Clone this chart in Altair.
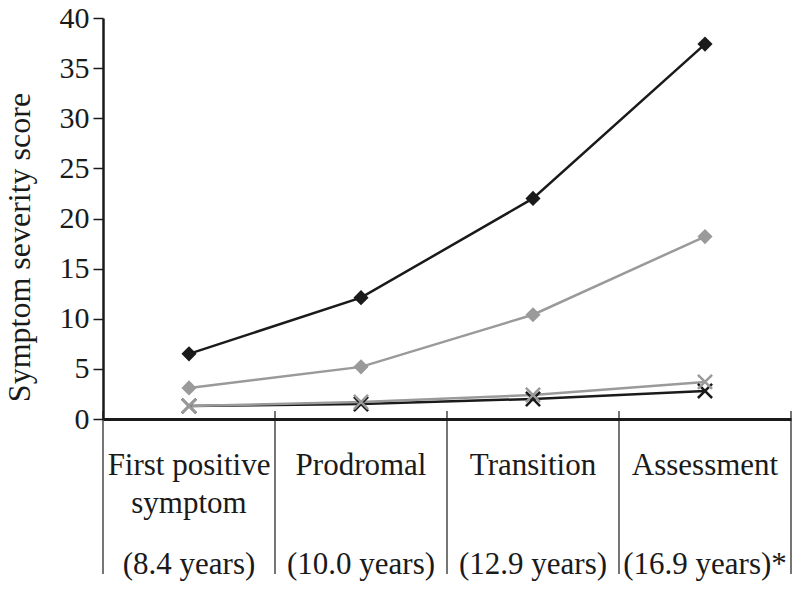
import altair as alt
import pandas as pd

categories = ["First positive symptom", "Prodromal", "Transition", "Assessment"]
label_line1 = ["First positive", "Prodromal", "Transition", "Assessment"]
label_line2 = ["symptom", "", "", ""]
label_line3 = ["(8.4 years)", "(10.0 years)", "(12.9 years)", "(16.9 years)*"]

series_names = ["Black diamond", "Grey diamond", "Grey cross", "Black cross"]
black_diamond = [6.5, 12.1, 22.0, 37.4]
grey_diamond = [3.1, 5.2, 10.4, 18.2]
grey_cross = [1.3, 1.7, 2.4, 3.7]
black_cross = [1.3, 1.5, 2.0, 2.8]

BLACK = "#1a1a1a"
GREY = "#9a9a9a"
FONT = "Liberation Serif"

pos = [i + 0.5 for i in range(len(categories))]
rows = []
for name, vals in zip(series_names, [black_diamond, grey_diamond, grey_cross, black_cross]):
    for c, p, v in zip(categories, pos, vals):
        rows.append({"series": name, "cat": c, "pos": p, "value": v})
df = pd.DataFrame(rows)

xscale = alt.Scale(domain=[0, 4], nice=False, zero=False)
yscale = alt.Scale(domain=[0, 40], nice=False)

xenc = alt.X("pos:Q", scale=xscale,
             axis=alt.Axis(labels=False, ticks=False, grid=False, title=None,
                           domainColor=BLACK, domainWidth=3))
yenc = alt.Y("value:Q", scale=yscale,
             axis=alt.Axis(values=list(range(0, 41, 5)), grid=False,
                           title="Symptom severity score",
                           titleFont=FONT, titleFontSize=32, titleFontWeight="normal",
                           titleColor=BLACK, titleX=-84, titleY=229,
                           titleAngle=270, titleBaseline="middle", titleAlign="center",
                           labelFont=FONT, labelFontSize=30, labelColor=BLACK,
                           labelPadding=4, tickSize=10, tickWidth=1.5, tickColor=BLACK,
                           domainColor=BLACK, domainWidth=2.5))

def line_layer(name, color):
    d = df[df.series == name]
    return alt.Chart(d).mark_line(color=color, strokeWidth=2.5).encode(x=xenc, y=yenc)

def point_layer(name, color, shape):
    d = df[df.series == name]
    if shape == "diamond":
        m = alt.Chart(d).mark_point(shape="diamond", filled=True, color=color, size=230, opacity=1)
    else:
        m = alt.Chart(d).mark_point(shape="M-1,-1L1,1M-1,1L1,-1", filled=False, color=color,
                                    strokeWidth=2.5, size=200, opacity=1)
    return m.encode(x=xenc, y=yenc)

# divider rules at category boundaries
bounds = pd.DataFrame({"b": [0, 1, 2, 3, 4], "top": [0.8] * 5, "bottom": [-15.45] * 5})
rules = alt.Chart(bounds).mark_rule(color=BLACK, strokeWidth=1.2).encode(
    x=alt.X("b:Q", scale=xscale), y=alt.Y("top:Q", scale=yscale), y2="bottom:Q")

lab = pd.DataFrame({"pos": pos, "l1": label_line1, "l2": label_line2, "l3": label_line3,
                    "y1": [-5.6] * 4, "y2": [-9.4] * 4, "y3": [-15.45] * 4})

def text_layer(col, ycol):
    return alt.Chart(lab).mark_text(font=FONT, fontSize=31, color=BLACK, align="center",
                                    baseline="alphabetic").encode(
        x=alt.X("pos:Q", scale=xscale), y=alt.Y(f"{ycol}:Q", scale=yscale), text=f"{col}:N")

chart = alt.layer(
    line_layer("Black cross", BLACK),
    line_layer("Grey cross", GREY),
    line_layer("Grey diamond", GREY),
    line_layer("Black diamond", BLACK),
    point_layer("Black cross", BLACK, "x"),
    point_layer("Grey cross", GREY, "x"),
    point_layer("Grey diamond", GREY, "diamond"),
    point_layer("Black diamond", BLACK, "diamond"),
    rules,
    text_layer("l1", "y1"),
    text_layer("l2", "y2"),
    text_layer("l3", "y3"),
).properties(
    width=688, height=401,
    autosize=alt.AutoSizeParams(type="none"),
    padding={"left": 95, "top": 10, "right": 1, "bottom": 164},
).configure_view(stroke=None)

chart.save("out.html", embed_options={"renderer": "svg", "actions": False})
